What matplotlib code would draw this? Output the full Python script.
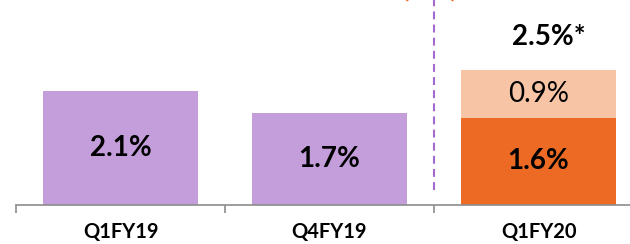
import matplotlib.pyplot as plt

# Chart data
quarters = ["Q1FY19", "Q4FY19", "Q1FY20"]
base_values = [2.1, 1.7, 1.6]
extra_values = [0.0, 0.0, 0.9]
base_labels = ["2.1%", "1.7%", "1.6%"]
extra_label = "0.9%"
total_label = "2.5%*"

purple = "#C39EDB"
orange = "#EC6A24"
light_orange = "#F7C4A5"

plt.rcParams["font.family"] = ["Lato", "DejaVu Sans"]

fig = plt.figure(figsize=(6.3, 2.44), dpi=100)
ax = fig.add_axes([16 / 630, 39.5 / 244, 614 / 630, 204.5 / 244])

x = list(range(len(quarters)))
width = 0.737
base_colors = [purple, purple, orange]
ax.bar(x, base_values, width=width, color=base_colors)
ax.bar(x[2], extra_values[2], width=width, bottom=base_values[2], color=light_orange)

# Labels inside bars
for i, (v, lab) in enumerate(zip(base_values, base_labels)):
    ax.text(i, v / 2, lab, ha="center", va="center", fontsize=20, fontweight="bold", color="black")
ax.text(2, base_values[2] + extra_values[2] / 2, extra_label, ha="center", va="center",
        fontsize=20, color="black")
ax.text(2.05, base_values[2] + extra_values[2] + 0.6, total_label, ha="center", va="center",
        fontsize=20, fontweight="bold", color="black")

# Divider between periods
ax.plot([1.5, 1.5], [0.27, 3.79], linestyle=(0, (3.8, 2.5)), color="#A36AD0", linewidth=1.5)
fig.text(430 / 630, 1.045, "(      )", ha="center", va="center", fontsize=20,
         fontweight="bold", color=orange)

ax.set_xlim(-0.5, -0.5 + 614 / 209)
ax.set_ylim(0, 3.79)
ax.set_xticks(x)
ax.set_xticklabels(quarters, fontsize=14.5, fontweight="bold")
ax.tick_params(axis="x", which="major", length=0, pad=12.5)
ax.set_xticks([-0.5, 0.5, 1.5], minor=True)
ax.tick_params(axis="x", which="minor", length=6, width=1.2, color="#8C8C8C", direction="out")
ax.set_yticks([])
for side in ["top", "right", "left"]:
    ax.spines[side].set_visible(False)
ax.spines["bottom"].set_color("#8C8C8C")
ax.spines["bottom"].set_linewidth(1.2)

fig.savefig("out.png", dpi=100)
